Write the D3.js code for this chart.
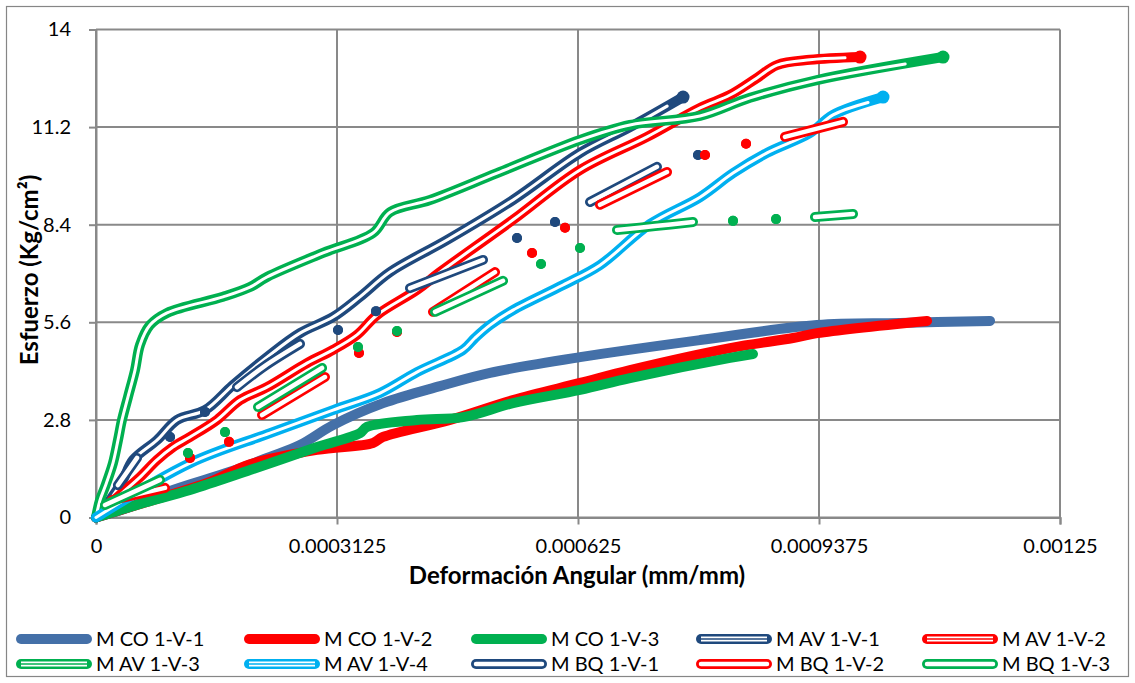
<!DOCTYPE html>
<html><head><meta charset="utf-8">
<script src="https://cdn.jsdelivr.net/npm/d3@7/dist/d3.min.js"></script>
<style>
body{margin:0;background:#fff}
text{font-family:Lato,"Open Sans",sans-serif;fill:#000}
</style>
</head><body>
<svg id="chart" width="1135" height="683"></svg>
<script>
// ---------- axis ticks ----------
const xTicks = [0, 0.0003125, 0.000625, 0.0009375, 0.00125];
const xTickLabels = ["0", "0.0003125", "0.000625", "0.0009375", "0.00125"];
const yTicks = [0, 2.8, 5.6, 8.4, 11.2, 14];
const yTickLabels = ["0", "2.8", "5.6", "8.4", "11.2", "14"];
const xTitle = "Deformación Angular (mm/mm)";
const yTitle = "Esfuerzo (Kg/cm²)";

// ---------- series names ----------
const seriesNames = ["M CO 1-V-1","M CO 1-V-2","M CO 1-V-3","M AV 1-V-1","M AV 1-V-2",
                     "M AV 1-V-3","M AV 1-V-4","M BQ 1-V-1","M BQ 1-V-2","M BQ 1-V-3"];

// ---------- data (x: deformación, y: esfuerzo); null = gap ----------
const coX1 = [0,0.0000441,0.0000999,0.0001738,0.0002256,0.0002645,0.0003073,0.0003722,0.0004461,0.0005109,0.0006276,0.0007832,0.0009349,0.0010425,0.0011593];
const coY1 = [0,0.30,0.79,1.31,1.74,2.08,2.65,3.28,3.77,4.15,4.60,5.09,5.52,5.58,5.64];

const coX2 = [0,0.0000441,0.0000960,0.0001478,0.0001997,0.0002866,0.0003592,0.0003722,0.0004590,0.0005407,0.0006276,0.0006924,0.0008221,0.0009038,0.0009349,0.0010776];
const coY2 = [0,0.30,0.65,1.02,1.53,1.94,2.14,2.31,2.80,3.37,3.86,4.23,4.86,5.15,5.29,5.64];

const coX3 = [0,0.0000571,0.0001219,0.0001997,0.0002866,0.0003423,0.0003514,0.0004162,0.0004759,0.0005407,0.0006276,0.0006924,0.0008221,0.0008519];
const coY3 = [0,0.39,0.79,1.36,2.02,2.42,2.60,2.80,2.88,3.28,3.66,4.00,4.58,4.69];

const avX1 = [0,0.0000182,0.0000350,0.0000480,0.0000791,0.0001050,0.0001413,0.0001776,0.0002217,0.0002645,0.0003073,0.0003423,0.0003812,0.0004551,0.0005407,0.0006276,0.0006924,0.0007612];
const avY1 = [0,0.50,1.08,1.65,2.22,2.80,3.08,3.80,4.60,5.29,5.75,6.33,7.04,7.96,9.11,10.46,11.20,12.06];

const avX2 = [0,0.0000311,0.0000571,0.0000791,0.0000998,0.0001219,0.0001569,0.0001867,0.0002217,0.0002736,0.0003073,0.0003384,0.0003644,0.0004162,0.0004461,0.0005407,0.0006276,0.0007145,0.0007832,0.0008221,0.0008571,0.0008830,0.0009258,0.0009907];
const avY2 = [0,0.65,1.16,1.65,2.02,2.31,2.80,3.37,3.74,4.43,4.81,5.24,5.81,6.53,7.04,8.54,9.97,10.92,11.75,12.12,12.61,12.98,13.13,13.21];

const avX3 = [0,0.0000052,0.0000117,0.0000220,0.0000285,0.0000337,0.0000415,0.0000506,0.0000571,0.0000700,0.0000921,0.0001647,0.0001997,0.0002217,0.0002944,0.0003592,0.0003812,0.0004331,0.0005200,0.0006276,0.0006924,0.0007832,0.0008480,0.0009349,0.0010983];
const avY3 = [0,0.50,0.88,1.56,2.22,2.80,3.46,4.23,4.95,5.52,5.87,6.33,6.61,6.90,7.59,8.16,8.76,9.11,9.88,10.83,11.26,11.52,12.04,12.55,13.21];

const avX4 = [0,0.0001219,0.0002256,0.0003073,0.0003683,0.0004162,0.0004759,0.0004914,0.0005109,0.0005407,0.0006056,0.0006535,0.0007184,0.0007832,0.0008260,0.0008701,0.0009258,0.0009557,0.0010205];
const avY4 = [0,1.56,2.42,3.08,3.57,4.17,4.81,5.15,5.52,5.95,6.67,7.24,8.42,9.19,9.88,10.46,11.03,11.55,12.06];

const bqX1 = [0.0000285,0.0000532,null,0.0000960,null,0.0001413,null,0.0001828,0.0002191,0.0002645,null,0.0003138,null,0.0003631,null,0.0004072,0.0005018,null,0.0005459,null,0.0005952,null,0.0006406,0.0007274,null,0.0007806];
const bqY1 = [0.93,1.71,null,2.31,null,3.03,null,3.74,4.35,4.98,null,5.38,null,5.92,null,6.58,7.39,null,8.02,null,8.48,null,9.05,10.06,null,10.40];

const bqX2 = [0.0000207,0.0000895,null,0.0001219,null,0.0001725,null,0.0002153,0.0002969,null,0.0003410,null,0.0003903,null,0.0004370,0.0005174,null,0.0005654,null,0.0006082,null,0.0006535,0.0007404,null,0.0007897,null,0.0008429,null,0.0008934,0.0009686];
const bqY2 = [0.50,0.85,null,1.71,null,2.17,null,2.94,4.03,null,4.72,null,5.32,null,5.90,7.04,null,7.59,null,8.31,null,8.97,9.91,null,10.40,null,10.72,null,10.92,11.35];

const bqX3 = [0.0000117,0.0000830,null,0.0001193,null,0.0001673,null,0.0002101,0.0002931,null,0.0003397,null,0.0003903,null,0.0004396,0.0005278,null,0.0005770,null,0.0006276,null,0.0006756,0.0007249,0.0007741,null,0.0008260,null,0.0008818,null,0.0009323,0.0009816];
const bqY3 = [0.36,1.08,null,1.85,null,2.45,null,3.17,4.29,null,4.89,null,5.35,null,5.90,6.79,null,7.27,null,7.73,null,8.25,8.36,8.48,null,8.51,null,8.56,null,8.62,8.71];

// ---------- styles ----------
const colors = ["#4470A8","#FF0000","#00B050","#1F497D","#FF0000","#00B050","#00B0F0","#1F497D","#FF0000","#00B050"];
const kinds  = ["solid","solid","solid","double","double","double","double","outline","outline","outline"];
const xs = [coX1,coX2,coX3,avX1,avX2,avX3,avX4,bqX1,bqX2,bqX3];
const ys = [coY1,coY2,coY3,avY1,avY2,avY3,avY4,bqY1,bqY2,bqY3];

const svg = d3.select("#chart");
const W = 1135, H = 683;
const plot = {left: 96, right: 1060, top: 29.5, bottom: 517.5};

// chart border
svg.append("rect").attr("x",6.5).attr("y",6.5).attr("width",W-13).attr("height",H-13)
   .attr("fill","#fff").attr("stroke","#868686").attr("stroke-width",1.2);

const x = d3.scaleLinear().domain([0,0.00125]).range([plot.left, plot.right]);
const y = d3.scaleLinear().domain([0,14]).range([plot.bottom, plot.top]);

// gridlines
const grid = svg.append("g").attr("stroke","#898989").attr("stroke-width",2);
grid.selectAll("line.h").data(yTicks).join("line")
  .attr("x1",plot.left).attr("x2",plot.right).attr("y1",d=>y(d)).attr("y2",d=>y(d));
grid.selectAll("line.v").data(xTicks).join("line")
  .attr("y1",plot.top).attr("y2",plot.bottom).attr("x1",d=>x(d)).attr("x2",d=>x(d));

// axes with outside ticks
const xAxis = d3.axisBottom(x).tickValues(xTicks).tickFormat((d,i)=>xTickLabels[i]).tickSize(7).tickPadding(14);
const yAxis = d3.axisLeft(y).tickValues(yTicks).tickFormat((d,i)=>yTickLabels[i]).tickSize(7).tickPadding(18);
const gx = svg.append("g").attr("transform",`translate(0,${plot.bottom})`).call(xAxis);
const gy = svg.append("g").attr("transform",`translate(${plot.left},0)`).call(yAxis);
[gx,gy].forEach(g=>{
  g.select(".domain").attr("stroke","#898989").attr("stroke-width",2);
  g.selectAll(".tick line").attr("stroke","#898989").attr("stroke-width",2);
  g.selectAll(".tick text").style("font-size","20px").style("font-family","Lato").attr("fill","#000");
});

// series
const gs = svg.append("g");
const curve = d3.curveCatmullRom.alpha(0.5);
function drawSeries(i){
  const xa = xs[i], ya = ys[i], c = colors[i], k = kinds[i];
  const pts = xa.map((v,j)=> v===null ? null : [v, ya[j]]);
  const line = d3.line().defined(d=>d!==null).x(d=>x(d[0])).y(d=>y(d[1])).curve(curve);
  const g = gs.append("g");
  const base = g.append("path").attr("d",line(pts)).attr("fill","none").attr("stroke",c)
    .attr("stroke-linecap","round").attr("stroke-linejoin","round").attr("stroke-width",10);
  if(k==="solid") return;
  if(k==="double"){
    const last = pts[pts.length-1], prev = pts[pts.length-2];
    g.append("circle").attr("cx",x(last[0])).attr("cy",y(last[1])).attr("r",6.5).attr("fill",c);
    const inner = pts.slice(0,-1).concat([[prev[0]*0.3+last[0]*0.7, prev[1]*0.3+last[1]*0.7]]);
    g.append("path").attr("d",line(inner))
      .attr("fill","none").attr("stroke","#fff").attr("stroke-width",3)
      .attr("stroke-linecap","round").attr("stroke-linejoin","round");
  } else {
    g.append("path").attr("d",line(pts)).attr("fill","none").attr("stroke","#fff").attr("stroke-width",4.5)
      .attr("stroke-linecap","round").attr("stroke-linejoin","round");
    pts.forEach((p,j)=>{
      if(p===null) return;
      const pv = j>0 ? pts[j-1] : null, nx = j<pts.length-1 ? pts[j+1] : null;
      if(pv===null && nx===null){
        g.append("circle").attr("cx",x(p[0])).attr("cy",y(p[1])).attr("r",5).attr("fill",c);
      }
    });
  }
}
for(let i=0;i<10;i++) drawSeries(i);

// axis titles
svg.append("text").attr("x",577).attr("y",584).attr("text-anchor","middle")
  .style("font-size","24px").style("font-weight","bold").text(xTitle);
svg.append("text").attr("transform","translate(38,270) rotate(-90)").attr("text-anchor","middle")
  .style("font-size","24px").style("font-weight","bold").text(yTitle);

// legend
const legX = [16,244,471,696,922];
const legY = [639,664];
const leg = svg.append("g");
seriesNames.forEach((name,i)=>{
  const col = i%5, row = Math.floor(i/5);
  const gx0 = legX[col], gy0 = legY[row], len = 76;
  const c = colors[i], k = kinds[i];
  const g = leg.append("g");
  g.append("line").attr("x1",gx0+5).attr("x2",gx0+len-5).attr("y1",gy0).attr("y2",gy0)
    .attr("stroke",c).attr("stroke-width",10).attr("stroke-linecap","round");
  if(k==="double"){
    g.append("line").attr("x1",gx0+5).attr("x2",gx0+len-5).attr("y1",gy0).attr("y2",gy0)
      .attr("stroke","#fff").attr("stroke-width",5);
    g.append("line").attr("x1",gx0+5).attr("x2",gx0+len-5).attr("y1",gy0).attr("y2",gy0)
      .attr("stroke",c).attr("stroke-width",1.6);
  } else if(k==="outline"){
    g.append("line").attr("x1",gx0+5).attr("x2",gx0+len-5).attr("y1",gy0).attr("y2",gy0)
      .attr("stroke","#fff").attr("stroke-width",4.5).attr("stroke-linecap","round");
  }
  g.append("text").attr("x",gx0+len+4).attr("y",gy0).attr("dy","0.35em")
    .style("font-size","20px").text(name);
});
</script>
</body></html>
